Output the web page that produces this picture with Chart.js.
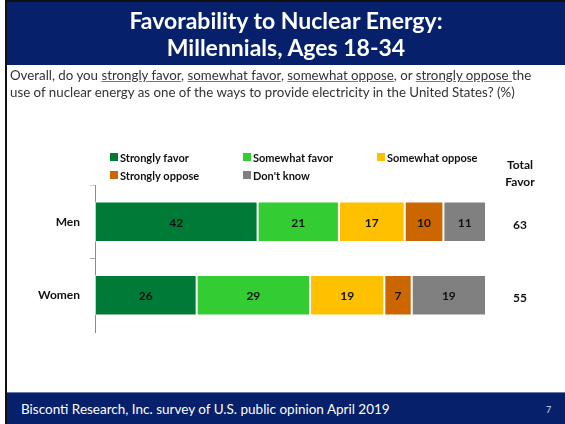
<!DOCTYPE html>
<html>
<head>
<meta charset="utf-8">
<script src="https://cdn.jsdelivr.net/npm/chart.js@4"></script>
<style>
  html, body { margin: 0; padding: 0; background: #fff; }
  body { width: 565px; height: 424px; position: relative; overflow: hidden; font-family: Lato, "Open Sans", sans-serif; }
  #chart { position: absolute; left: 0; top: 0; }
  .edge-left { position: absolute; left: 5px; top: 0; width: 2px; height: 424px; background: #111; }
  .edge-top { position: absolute; left: 5px; top: 0; width: 560px; height: 2px; background: #111; }
  .header { position: absolute; left: 7px; top: 2px; width: 558px; height: 63px; background: #06206b; color: #fff;
            text-align: center; font-weight: bold; font-size: 23px; line-height: 27px; padding-top: 5px; box-sizing: border-box; }
  .question { position: absolute; left: 10px; top: 67px; width: 555px; font-size: 13.3px; line-height: 17px; color: #333; white-space: nowrap; }
  .question u { text-decoration-color: #777; }
  .footer { position: absolute; left: 7px; top: 392px; width: 558px; height: 32px; background: #06206b; border-top: 1px solid #6a7aa8;
            color: #fff; font-size: 13.5px; box-sizing: border-box; }
  .footer .src { position: absolute; left: 14px; top: 8px; }
  .footer .pg { position: absolute; left: 539px; top: 11px; font-size: 9px; color: #dde; }
</style>
</head>
<body>
<canvas id="chart" width="565" height="424"></canvas>
<div class="edge-left"></div>
<div class="edge-top"></div>
<div class="header">Favorability to Nuclear Energy:<br>Millennials, Ages 18-34</div>
<div class="question">Overall, do you <u>strongly favor</u>, <u>somewhat favor</u>, <u>somewhat oppose</u>, or <u>strongly oppose </u>the<br>use of nuclear energy as one of the ways to provide electricity in the United States? (%)</div>
<div class="footer"><span class="src">Bisconti Research, Inc. survey of U.S. public opinion April 2019</span><span class="pg">7</span></div>
<script>
// Data
const groups = ['Men', 'Women'];
const seriesNames = ['Strongly favor', 'Somewhat favor', 'Somewhat oppose', 'Strongly oppose', "Don't know"];
const stronglyFavor = [42, 26];
const somewhatFavor = [21, 29];
const somewhatOppose = [17, 19];
const stronglyOppose = [10, 7];
const dontKnow = [11, 19];
const totalFavor = [63, 55];
const colors = ['#007a37', '#33cc33', '#ffc000', '#cc6600', '#808080'];

const raw = [stronglyFavor, somewhatFavor, somewhatOppose, stronglyOppose, dontKnow];
// 100% stacked, like the original
const rowTotals = groups.map((g, i) => raw.reduce((s, arr) => s + arr[i], 0));

const datasets = raw.map((arr, k) => ({
    label: seriesNames[k],
    data: arr.map((v, i) => v / rowTotals[i] * 100),
    rawValues: arr,
    backgroundColor: colors[k],
    borderColor: 'rgba(255,255,255,0.55)',
    borderWidth: 1,
    borderSkipped: false,
    barPercentage: 1,
    categoryPercentage: 0.55
}));

const BOLD = 'bold 12px Lato, "Open Sans", sans-serif';

// values inside the bars + total favor column
const barLabels = {
    id: 'barLabels',
    afterDatasetsDraw(chart) {
        const c = chart.ctx;
        c.save();
        c.font = BOLD;
        c.fillStyle = '#111';
        c.textAlign = 'center';
        c.textBaseline = 'middle';
        chart.data.datasets.forEach((ds, k) => {
            chart.getDatasetMeta(k).data.forEach((bar, i) => {
                c.fillText(ds.rawValues[i], (bar.base + bar.x) / 2, bar.y + 1);
            });
        });
        const yScale = chart.scales.y;
        groups.forEach((g, i) => {
            c.fillText(totalFavor[i], 520, yScale.getPixelForValue(i) + 3);
        });
        c.fillText('Total', 520, 165);
        c.fillText('Favor', 520, 182);
        c.restore();
    }
};

// two-row legend as in the slide
const slideLegend = {
    id: 'slideLegend',
    afterDraw(chart) {
        const c = chart.ctx;
        const cols = [110, 243, 377];
        const rows = [157, 175];
        c.save();
        c.font = 'bold 11px Lato, "Open Sans", sans-serif';
        c.textBaseline = 'middle';
        c.textAlign = 'left';
        chart.data.datasets.forEach((ds, k) => {
            const x = cols[k % 3], y = rows[Math.floor(k / 3)];
            c.fillStyle = ds.backgroundColor;
            c.fillRect(x, y - 4, 8, 8);
            c.fillStyle = '#111';
            c.fillText(ds.label, x + 10, y + 1);
        });
        c.restore();
    }
};

const tickColors = ['#d0d0d0', '#a6a6a6', 'rgba(0,0,0,0)'];

new Chart(document.getElementById('chart'), {
    type: 'bar',
    data: { labels: groups, datasets: datasets },
    options: {
        indexAxis: 'y',
        responsive: false,
        animation: false,
        layout: { padding: { top: 185, right: 79, bottom: 92, left: 0 } },
        plugins: {
            legend: { display: false },
            tooltip: { enabled: false }
        },
        scales: {
            x: { stacked: true, min: 0, max: 100, display: false },
            y: {
                stacked: true,
                afterFit(scale) { scale.width = 95; },
                grid: {
                    offset: true,
                    drawOnChartArea: false,
                    color: (ctx) => tickColors[ctx.index] || 'rgba(0,0,0,0)',
                    tickLength: 5
                },
                border: { display: true, color: '#8c8c8c', width: 1 },
                ticks: { color: '#111', font: { family: 'Lato, "Open Sans", sans-serif', size: 12, weight: 'bold' }, padding: 10 }
            }
        }
    },
    plugins: [barLabels, slideLegend]
});
</script>
</body>
</html>
